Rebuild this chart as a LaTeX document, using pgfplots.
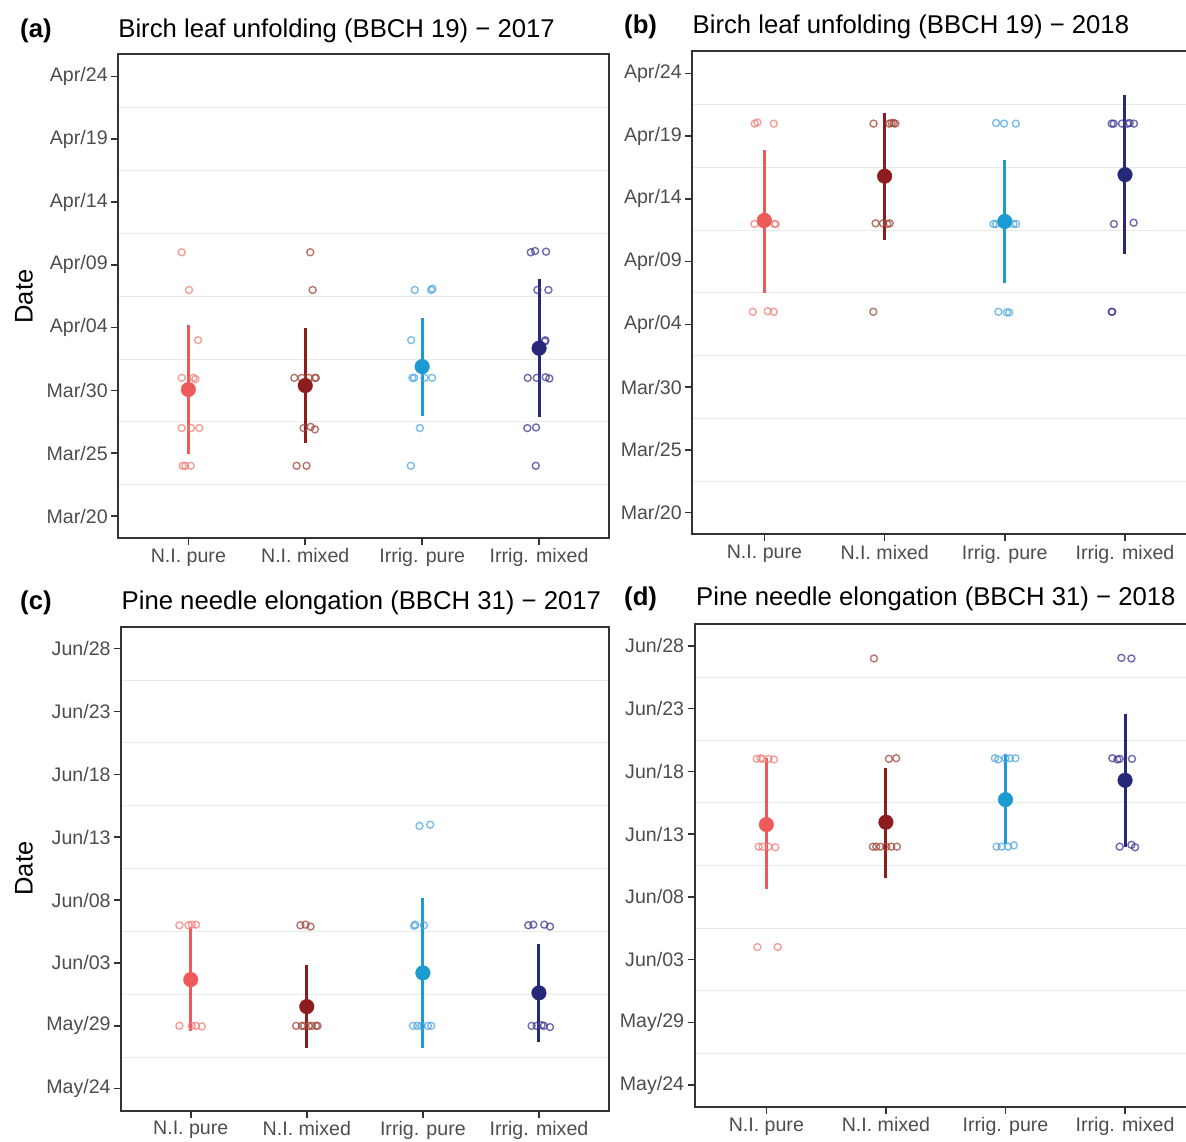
\documentclass[border=0pt]{standalone}
\usepackage{pgfplots}
\pgfplotsset{compat=1.18}
\usepackage{fontspec}
\setmainfont{Liberation Sans}
\setsansfont{Liberation Sans}
\definecolor{cA}{HTML}{EE5A5A}
\definecolor{cB}{HTML}{8E1B1E}
\definecolor{cC}{HTML}{1C9AD2}
\definecolor{cD}{HTML}{26287A}
\definecolor{pA}{HTML}{F07F78}
\definecolor{pB}{HTML}{A0473A}
\definecolor{pC}{HTML}{4FA6E0}
\definecolor{pD}{HTML}{3F3A96}
\definecolor{gridc}{HTML}{EBEBEB}
\definecolor{axc}{HTML}{333333}
\definecolor{labc}{HTML}{4D4D4D}
\pgfplotsset{
  panel/.style={
    scale only axis, anchor=south west,
    xmin=0.4, xmax=4.6, ymin=-1.75, ymax=36.75,
    xtick={1,2,3,4},
    xticklabels={N.I. pure, N.I. mixed, Irrig. pure, Irrig. mixed},
    ytick={0,5,...,35},
    minor ytick={2.5,7.5,...,32.5},
    yminorgrids=true, ymajorgrids=false, xmajorgrids=false,
    minor grid style={color=gridc, line width=1pt},
    minor tick length=0pt,
    major tick length=7pt,
    tick align=outside,
    xtick pos=bottom, ytick pos=left,
    axis line style={color=axc, line width=2pt},
    major tick style={color=axc, line width=1.6pt},
    tick label style={font=\fontsize{19.6}{23}\selectfont, text=labc},
    clip=false,
  },
  pts/.style={only marks, mark=o, mark size=3.5pt, color=#1,
    mark options={line width=1.4pt, draw opacity=0.75}},
  err/.style={no marks, color=#1, line width=3pt},
  mn/.style={only marks, mark=*, mark size=7.3pt, color=#1,
    mark options={draw=none, fill=#1}},
}
\begin{document}
\begin{tikzpicture}
\useasboundingbox (0,0) rectangle (1186pt,1142pt);
\clip (0,0) rectangle (1186pt,1142pt);

% ---------------- (a)
\begin{axis}[panel, at={(118.2pt,604pt)}, width=491pt, height=483.5pt,
  yticklabels={Mar/20,Mar/25,Mar/30,Apr/04,Apr/09,Apr/14,Apr/19,Apr/24}]
\addplot[pts=pA] coordinates {(0.943,21) (1.006,18) (1.083,14) (0.943,11) (1.043,11) (1.06,10.9) (0.943,7) (1.023,7) (1.094,7) (0.952,4) (0.974,4) (1.02,4)};
\addplot[err=cA] coordinates {(1,4.95) (1,15.17)};
\addplot[mn=cA] coordinates {(1,10.07)};
\addplot[pts=pB] coordinates {(2.043,21) (2.063,18) (1.906,11) (1.969,11) (2.031,11) (2.083,11) (2.091,11) (1.986,7) (2.046,7.1) (2.083,6.9) (1.926,4) (2.011,4)};
\addplot[err=cB] coordinates {(2,5.82) (2,14.96)};
\addplot[mn=cB] coordinates {(2,10.39)};
\addplot[pts=pC] coordinates {(2.937,18) (3.077,18) (3.088,18.1) (2.906,14) (2.917,11) (2.932,11) (3.02,11) (3.085,11) (2.98,7) (2.903,4)};
\addplot[err=cC] coordinates {(3,7.97) (3,15.78)};
\addplot[mn=cC] coordinates {(3,11.9)};
\addplot[pts=pD] coordinates {(3.929,21) (3.966,21.1) (4.06,21.05) (3.986,18) (4.08,18) (4.054,14) (4.05,13.9) (3.903,11) (3.98,11) (4.057,11.05) (4.088,10.95) (3.9,7) (3.974,7.05) (3.972,4)};
\addplot[err=cD] coordinates {(4,7.87) (4,18.84)};
\addplot[mn=cD] coordinates {(4,13.36)};
\end{axis}

% ---------------- (b)
\begin{axis}[panel, at={(692.3pt,607.5pt)}, width=504.8pt, height=483pt,
  yticklabels={Mar/20,Mar/25,Mar/30,Apr/04,Apr/09,Apr/14,Apr/19,Apr/24}]
\addplot[pts=pA] coordinates {(0.919,31) (0.942,31.1) (1.078,31) (0.917,23) (0.98,23) (1.083,23) (1.094,23) (0.903,16) (1.028,16.05) (1.078,16)};
\addplot[err=cA] coordinates {(1,17.5) (1,28.93)};
\addplot[mn=cA] coordinates {(1,23.29)};
\addplot[pts=pB] coordinates {(1.908,31) (2.039,31) (2.058,31.05) (2.075,31.05) (2.089,31) (1.925,23.05) (1.986,23.05) (2.022,23) (2.042,23.05) (1.906,16)};
\addplot[err=cB] coordinates {(2,21.75) (2,31.82)};
\addplot[mn=cB] coordinates {(2,26.81)};
\addplot[pts=pC] coordinates {(2.928,31.05) (2.994,31) (3.092,31) (2.906,23) (2.928,23) (3.072,23) (3.094,23) (2.947,16) (3.017,15.95) (3.036,15.95)};
\addplot[err=cC] coordinates {(3,18.27) (3,28.11)};
\addplot[mn=cC] coordinates {(3,23.2)};
\addplot[pts=pD] coordinates {(3.889,31) (3.906,31) (3.975,31) (4.022,31) (4.039,31.05) (4.075,31) (3.908,23) (4.072,23.1) (3.889,16) (3.894,16)};
\addplot[err=cD] coordinates {(4,20.63) (4,33.27)};
\addplot[mn=cD] coordinates {(4,26.93)};
\end{axis}

% ---------------- (c)
\begin{axis}[panel, at={(121.1pt,31.3pt)}, width=487.5pt, height=484pt,
  yticklabels={May/24,May/29,Jun/03,Jun/08,Jun/13,Jun/18,Jun/23,Jun/28}]
\addplot[pts=pA] coordinates {(0.902,13) (0.98,13) (1.009,13.05) (1.046,13.05) (0.902,5) (1.009,5) (1.046,5) (1.095,4.95)};
\addplot[err=cA] coordinates {(1,4.62) (1,12.9)};
\addplot[mn=cA] coordinates {(1,8.68)};
\addplot[pts=pB] coordinates {(1.945,13) (1.989,13.05) (2.032,12.9) (1.908,5) (1.957,5) (1.977,5) (2.017,5) (2.043,5) (2.08,5) (2.092,5)};
\addplot[err=cB] coordinates {(2,3.21) (2,9.87)};
\addplot[mn=cB] coordinates {(2,6.53)};
\addplot[pts=pC] coordinates {(2.971,20.9) (3.063,21) (2.925,12.95) (2.934,13.05) (3.009,13) (2.914,5) (2.951,5) (2.986,5) (3.043,5) (3.072,5)};
\addplot[err=cC] coordinates {(3,3.21) (3,15.15)};
\addplot[mn=cC] coordinates {(3,9.21)};
\addplot[pts=pD] coordinates {(3.908,13) (3.951,13.05) (4.046,13.05) (4.095,12.9) (3.937,5) (3.98,5) (4.023,5.05) (4.043,5) (4.095,4.9)};
\addplot[err=cD] coordinates {(4,3.72) (4,11.52)};
\addplot[mn=cD] coordinates {(4,7.62)};
\end{axis}

% ---------------- (d)
\begin{axis}[panel, at={(694.6pt,35pt)}, width=502.2pt, height=483pt,
  yticklabels={May/24,May/29,Jun/03,Jun/08,Jun/13,Jun/18,Jun/23,Jun/28}]
\addplot[pts=pA] coordinates {(0.919,26) (0.953,26.05) (0.969,26) (1.019,26) (1.064,25.95) (0.936,19) (0.969,19) (1.019,19) (1.075,18.95) (0.925,11) (1.095,11)};
\addplot[err=cA] coordinates {(1,15.59) (1,26.1)};
\addplot[mn=cA] coordinates {(1,20.76)};
\addplot[pts=pB] coordinates {(1.9,34) (2.025,26) (2.086,26.05) (1.891,19) (1.919,19) (1.953,19) (2.003,19) (2.045,19) (2.092,19)};
\addplot[err=cB] coordinates {(2,16.54) (2,25.27)};
\addplot[mn=cB] coordinates {(2,20.95)};
\addplot[pts=pC] coordinates {(2.911,26.05) (2.939,25.95) (3,26.05) (3.036,26.05) (3.084,26.05) (2.925,19) (2.967,19) (3.022,19) (3.07,19.1)};
\addplot[err=cC] coordinates {(3,19.19) (3,26.41)};
\addplot[mn=cC] coordinates {(3,22.75)};
\addplot[pts=pD] coordinates {(3.969,34.05) (4.053,34) (3.894,26.05) (3.936,25.95) (3.955,26) (4.058,26) (3.955,19) (4.053,19.15) (4.084,18.95)};
\addplot[err=cD] coordinates {(4,18.98) (4,29.54)};
\addplot[mn=cD] coordinates {(4,24.29)};
\end{axis}

% titles
\begin{scope}[every node/.style={anchor=base west, inner sep=0pt, font=\fontsize{25.7}{30}\selectfont}]
\node[font=\bfseries\fontsize{25.7}{30}\selectfont] at (20pt,1104.8pt) {(a)};
\node at (118.2pt,1104.8pt) {Birch leaf unfolding (BBCH 19) − 2017};
\node[font=\bfseries\fontsize{25.7}{30}\selectfont] at (624pt,1108.4pt) {(b)};
\node at (692.5pt,1108.4pt) {Birch leaf unfolding (BBCH 19) − 2018};
\node[font=\bfseries\fontsize{25.7}{30}\selectfont] at (20pt,532pt) {(c)};
\node at (121.5pt,532pt) {Pine needle elongation (BBCH 31) − 2017};
\node[font=\bfseries\fontsize{25.7}{30}\selectfont] at (624pt,536.6pt) {(d)};
\node at (696pt,536.6pt) {Pine needle elongation (BBCH 31) − 2018};
\end{scope}
\node[rotate=90, inner sep=0pt, font=\fontsize{25.5}{30}\selectfont] at (24pt,845.5pt) {Date};
\node[rotate=90, inner sep=0pt, font=\fontsize{25.5}{30}\selectfont] at (24pt,273.4pt) {Date};
\end{tikzpicture}
\end{document}
